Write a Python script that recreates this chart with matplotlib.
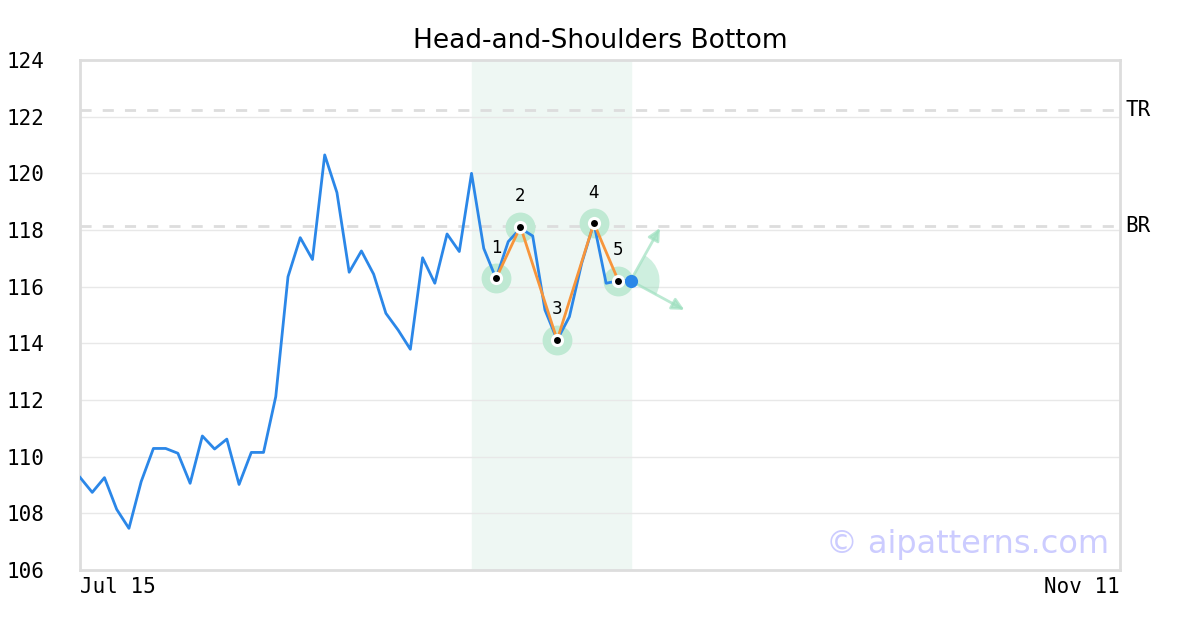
import matplotlib
matplotlib.use("Agg")
import matplotlib.pyplot as plt
import matplotlib.transforms as mtransforms
from matplotlib.patches import Wedge

# price series, one value per trading day from Jul 15 (index 0)
prices = [109.27, 108.74, 109.26, 108.14, 107.47, 109.12, 110.29, 110.29, 110.12, 109.06,
          110.73, 110.27, 110.62, 109.02, 110.15, 110.15, 112.12, 116.35, 117.73, 116.96,
          120.65, 119.32, 116.51, 117.26, 116.44, 115.06, 114.47, 113.79, 117.02, 116.12,
          117.86, 117.24, 120.00, 117.35, 116.29, 117.59, 118.06, 117.79, 115.18, 114.12,
          114.94, 116.82, 118.24, 116.12, 116.21, 116.21]

# pattern pivots (index, value)
pivot_idx = [34, 36, 39, 42, 44]
pivot_val = [116.29, 118.12, 114.12, 118.24, 116.21]
pivot_labels = ["1", "2", "3", "4", "5"]

pattern_span = (32, 45)
last_idx = 45
last_val = 116.21

# projection arrows (end points)
arrow_ends = [(47.4, 118.07), (49.4, 115.18)]

top_ref = 122.22   # TR
bottom_ref = 118.15  # BR

n_days = 86
x_ticks = [0, 85]
x_tick_labels = ["Jul 15", "Nov 11"]
y_ticks = [106, 108, 110, 112, 114, 116, 118, 120, 122, 124]

mono = "DejaVu Sans Mono"
blue = "#2b87e8"
orange = "#f7953b"
green = "#9fe0c0"

fig = plt.figure(figsize=(12, 6.3), dpi=100)
ax = fig.add_axes([80 / 1200, 60 / 630, 1040 / 1200, 510 / 630])

ax.set_xlim(0, n_days - 1)
ax.set_ylim(106, 124)

ax.axvspan(pattern_span[0], pattern_span[1], color="#eef7f3", zorder=0)

for y in y_ticks:
    ax.axhline(y, color="#e8e8e8", lw=1, zorder=1)

ax.axhline(top_ref, color="#dddddd", lw=2, ls=(0, (4, 4)), zorder=1)
ax.axhline(bottom_ref, color="#dddddd", lw=2, ls=(0, (4, 4)), zorder=1)
ax.text(1.005, top_ref, "TR", transform=ax.get_yaxis_transform(), fontsize=15,
        family=mono, va="center", ha="left")
ax.text(1.005, bottom_ref, "BR", transform=ax.get_yaxis_transform(), fontsize=15,
        family=mono, va="center", ha="left")

# halos under the lines
ax.plot(pivot_idx, pivot_val, "o", ms=21.5, color="#bfe9d3", mec="none", zorder=2)

ax.plot(range(len(prices)), prices, color=blue, lw=2, zorder=3)
ax.plot(pivot_idx, pivot_val, color=orange, lw=2, zorder=4)

# wedge and arrows at the last point
trans = fig.dpi_scale_trans + mtransforms.ScaledTranslation(last_idx, last_val, ax.transData)
ax.add_patch(Wedge((0, 0), 0.29, -29, 60, transform=trans, color=green, alpha=0.5,
                   lw=0, zorder=2))
for ex, ey in arrow_ends:
    ax.annotate("", xy=(ex, ey), xytext=(last_idx, last_val),
                arrowprops=dict(arrowstyle="-|>", color=green, lw=2, alpha=0.7,
                                mutation_scale=18, shrinkA=0, shrinkB=0), zorder=2)

ax.plot(pivot_idx, pivot_val, "o", ms=9.5, color="white", mec="none", zorder=6)
ax.plot(pivot_idx, pivot_val, "o", ms=5, color="black", mec="none", zorder=7)
ax.plot([last_idx], [last_val], "o", ms=9.5, color=blue, mec="none", zorder=7)

for i, v, lab in zip(pivot_idx, pivot_val, pivot_labels):
    ax.annotate(lab, (i, v), xytext=(0, 22), textcoords="offset points",
                ha="center", va="center", fontsize=12, zorder=8)

ax.text(0.99, 0.033, "\u00a9 aipatterns.com", transform=ax.transAxes, ha="right",
        va="baseline", fontsize=23, color="#ccccff", zorder=8)

ax.set_xticks(x_ticks)
ax.set_xticklabels(x_tick_labels, family=mono, fontsize=15)
ax.get_xticklabels()[0].set_ha("left")
ax.get_xticklabels()[1].set_ha("right")
ax.set_yticks(y_ticks)
ax.set_yticklabels([str(y) for y in y_ticks], family=mono, fontsize=15)
ax.tick_params(axis="both", length=0)
ax.tick_params(axis="y", pad=26)
ax.tick_params(axis="x", pad=5)

for s in ax.spines.values():
    s.set_color("#dddddd")
    s.set_linewidth(2)

ax.set_title("Head-and-Shoulders Bottom", fontsize=19, pad=9)

fig.savefig("out.png", dpi=100)
